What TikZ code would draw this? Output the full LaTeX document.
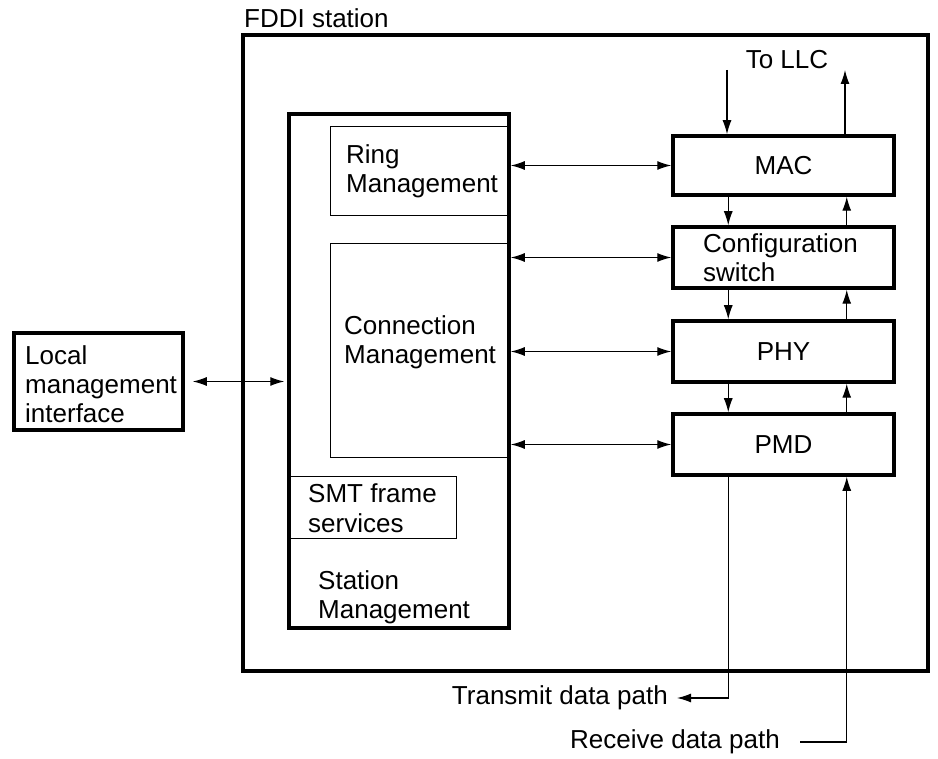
\documentclass[tikz,border=0pt]{standalone}
\usepackage{fontspec}
\setmainfont{Liberation Sans}
\usepackage{tikz}
\usetikzlibrary{arrows.meta}

\begin{document}
\begin{tikzpicture}[x=1pt,y=-1pt]
\tikzset{box/.style = {shape=rectangle,draw,line width=3.5pt,inner sep=0pt}}
\tikzset{subbox/.style = {shape=rectangle,draw,line width=1pt,inner sep=0pt}}
\tikzset{lbl/.style = {anchor=base west,align=left,inner sep=0pt,font=\fontsize{26}{29}\selectfont}}
\tikzset{edge/.style = {-{Latex[length=14pt,width=9pt]},line width=1.3pt}}
\tikzset{dedge/.style = {{Latex[length=14pt,width=9pt]}-{Latex[length=14pt,width=9pt]},line width=1.3pt}}
\useasboundingbox (0,0) rectangle (938,759);

% boxes
\node[box,minimum width=685pt,minimum height=636pt] (fddi) at (585.5,353) {};
\node[lbl,anchor=west] (fddilbl) at (244,18) {FDDI station};

\node[box,minimum width=220pt,minimum height=514pt] (smt) at (399,371) {};
\node[subbox,minimum width=179pt,minimum height=89pt] (rmt) at (419.5,171.5) {};
\node[subbox,minimum width=179pt,minimum height=214pt] (cmt) at (419.5,351) {};
\node[subbox,minimum width=166pt,minimum height=61pt] (frame) at (373,507.5) {};
\node[box,minimum width=169pt,minimum height=97pt] (lmi) at (98.5,381.5) {};

\node[box,minimum width=221pt,minimum height=59pt,font=\fontsize{26}{29}\selectfont] (mac) at (783.5,165.5) {MAC};
\node[box,minimum width=221pt,minimum height=61pt] (cfg) at (783.5,257.5) {};
\node[box,minimum width=221pt,minimum height=61pt,font=\fontsize{26}{29}\selectfont] (phy) at (783.5,351.5) {PHY};
\node[box,minimum width=221pt,minimum height=61pt,font=\fontsize{26}{29}\selectfont] (pmd) at (783.5,444.5) {PMD};

% labels (base = last line)
\node[lbl] (rmtlbl) at (346,193) {Ring\\Management};
\node[lbl] (cmtlbl) at (344,364) {Connection\\Management};
\node[lbl] (framelbl) at (308,532) {SMT frame\\services};
\node[lbl] (smtlbl) at (318,618) {Station\\Management};
\node[lbl] (lmilbl) at (25,423) {Local\\management\\interface};
\node[lbl] (cfglbl) at (703,282) {Configuration\\switch};
\node[lbl,anchor=center] (llc) at (787,60) {To LLC};
\node[lbl,anchor=east] (txpath) at (668,698) {Transmit data path};
\node[lbl,anchor=east] (rxpath) at (780,742) {Receive data path};

\coordinate (llcin) at (727,70);
\coordinate (llcout) at (845,70);

%edges
\draw[dedge,shorten <=8pt,shorten >=3pt] (lmi.east) -- (lmi.east -| smt.west);
\draw[dedge] (mac.west -| smt.east) -- (mac.west);
\draw[dedge] (cfg.west -| smt.east) -- (cfg.west);
\draw[dedge] (phy.west -| smt.east) -- (phy.west);
\draw[dedge] (pmd.west -| smt.east) -- (pmd.west);

\draw[edge] (llcin) -- (llcin |- mac.north);
\draw[edge] (mac.north -| llcout) -- (llcout);
\draw[edge] ([xshift=57pt]mac.south west) -- ([xshift=57pt]cfg.north west);
\draw[edge] ([xshift=-49pt]cfg.north east) -- ([xshift=-49pt]mac.south east);
\draw[edge] ([xshift=57pt]cfg.south west) -- ([xshift=57pt]phy.north west);
\draw[edge] ([xshift=-49pt]phy.north east) -- ([xshift=-49pt]cfg.south east);
\draw[edge] ([xshift=57pt]phy.south west) -- ([xshift=57pt]pmd.north west);
\draw[edge] ([xshift=-49pt]pmd.north east) -- ([xshift=-49pt]phy.south east);

\draw[edge] ([xshift=57pt]pmd.south west) |- ([xshift=9pt]txpath.east);
\draw[edge] ([xshift=20pt]rxpath.east) -| ([xshift=-49pt]pmd.south east);

\end{tikzpicture}
\end{document}
